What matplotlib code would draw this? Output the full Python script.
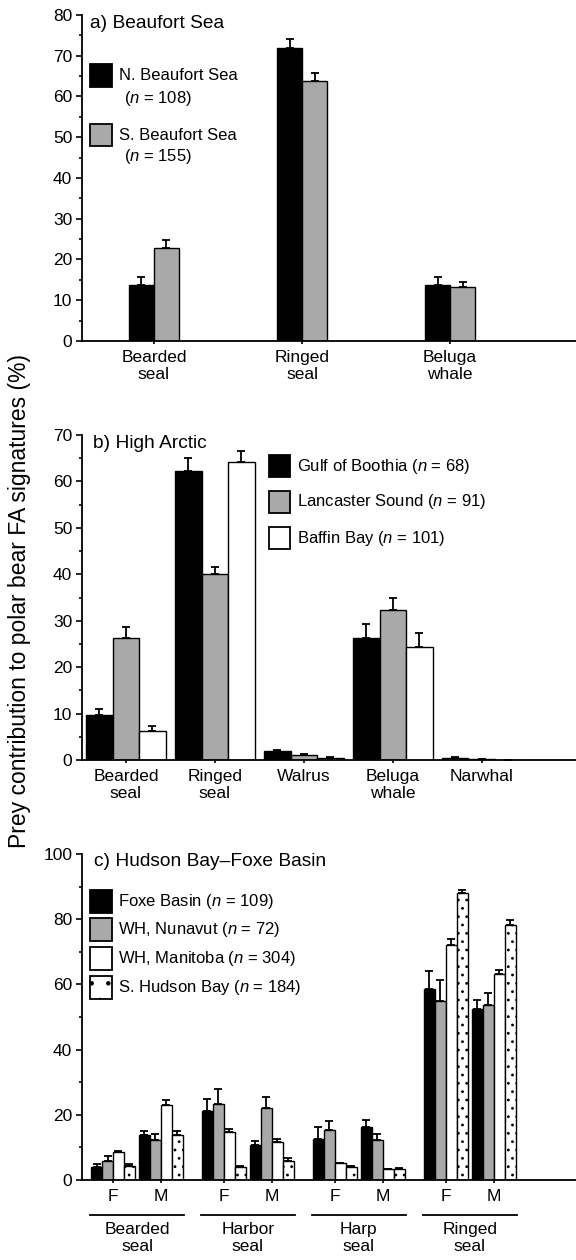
import numpy as np
import matplotlib
matplotlib.use('Agg')
import matplotlib.pyplot as plt
import matplotlib.transforms as mtransforms
from matplotlib.patches import Rectangle
from matplotlib.ticker import MultipleLocator

plt.rcParams['font.family'] = ['Liberation Sans', 'DejaVu Sans']
plt.rcParams['mathtext.fontset'] = 'custom'
plt.rcParams['mathtext.rm'] = 'Liberation Sans'
plt.rcParams['mathtext.it'] = 'Liberation Sans:italic'
plt.rcParams['hatch.linewidth'] = 0.8

GRAY = '#a9a9a9'

# a) Beaufort Sea
a_prey = ['Bearded\nseal', 'Ringed\nseal', 'Beluga\nwhale']
a_north = [13.8, 72.0, 13.8]
a_north_se = [2.0, 2.1, 2.0]
a_south = [22.9, 63.7, 13.3]
a_south_se = [2.0, 2.0, 1.2]

# b) High Arctic
b_prey = ['Bearded\nseal', 'Ringed\nseal', 'Walrus', 'Beluga\nwhale', 'Narwhal']
b_gulf = [9.7, 62.3, 1.9, 26.2, 0.4]
b_gulf_se = [1.2, 2.8, 0.3, 3.0, 0.3]
b_lanc = [26.2, 40.1, 1.1, 32.4, 0.2]
b_lanc_se = [2.5, 1.5, 0.2, 2.5, 0.1]
b_baff = [6.2, 64.1, 0.4, 24.4, 0.0]
b_baff_se = [1.1, 2.5, 0.3, 3.0, 0.0]

# c) Hudson Bay-Foxe Basin, order: F, M for each prey
c_prey = ['Bearded\nseal', 'Harbor\nseal', 'Harp\nseal', 'Ringed\nseal']
c_sex = ['F', 'M']
c_foxe = [3.9, 13.8, 21.1, 10.6, 12.7, 16.4, 58.5, 52.4]
c_foxe_se = [0.9, 1.2, 3.8, 1.5, 3.5, 2.0, 5.5, 2.8]
c_nun = [5.9, 12.3, 23.4, 22.0, 15.2, 12.3, 54.9, 53.8]
c_nun_se = [1.5, 1.8, 4.6, 3.6, 3.0, 1.8, 6.6, 3.5]
c_man = [8.6, 23.1, 14.8, 11.6, 5.1, 3.4, 72.0, 63.2]
c_man_se = [0.3, 1.4, 0.7, 0.9, 0.2, 0.0, 1.9, 1.2]
c_shb = [4.4, 13.8, 4.0, 5.9, 4.0, 3.4, 87.9, 78.1]
c_shb_se = [0.4, 1.2, 0.3, 1.0, 0.3, 0.4, 1.1, 1.7]

W, H = 576, 1260
fig = plt.figure(figsize=(W / 100, H / 100), dpi=100)


def px_axes(top, bottom, left=82, right=576):
    return fig.add_axes([left / W, 1 - bottom / H, (right - left) / W, (bottom - top) / H])


def bars(ax, x, w, vals, se, face, hatch=None):
    ax.bar(x, vals, w, color=face, edgecolor='k', linewidth=1.0, hatch=hatch, zorder=2)
    ax.errorbar(x, vals, yerr=[np.zeros(len(vals)), se], fmt='none', ecolor='k',
                elinewidth=1.3, capsize=3, capthick=1.3, zorder=3)


def style(ax, ymax, major, minor):
    for s in ['top', 'right']:
        ax.spines[s].set_visible(False)
    for s in ['left', 'bottom']:
        ax.spines[s].set_linewidth(1.3)
    ax.set_ylim(0, ymax)
    ax.yaxis.set_major_locator(MultipleLocator(major))
    ax.yaxis.set_minor_locator(MultipleLocator(minor))
    ax.tick_params(axis='y', which='major', length=4.5, width=1.2, labelsize=12.5, pad=2.5)
    ax.tick_params(axis='y', which='minor', length=2.5, width=1.2)
    ax.tick_params(axis='x', length=2.5, width=1.2, labelsize=12.5, pad=4)


def key(x, y, w, h, face, text=None, hatch=None, tx=None, fs=12):
    fig.add_artist(Rectangle((x / W, 1 - (y + h) / H), w / W, h / H, transform=fig.transFigure,
                             facecolor=face, edgecolor='k', lw=1.3, hatch=hatch))
    if text:
        fig.text(tx / W, 1 - (y + h / 2) / H, text, va='center', ha='left', fontsize=fs)


# ---- panel a
ax = px_axes(15, 341)
xa = np.arange(len(a_prey))
wa = 0.169
bars(ax, xa - wa / 2, wa, a_north, a_north_se, 'k')
bars(ax, xa + wa / 2, wa, a_south, a_south_se, GRAY)
style(ax, 80, 10, 5)
ax.set_xlim(-0.486, 2.85)
ax.set_xticks(xa)
ax.set_xticklabels(a_prey, linespacing=1.15)
fig.text(90 / W, 1 - 24 / H, 'a) Beaufort Sea', fontsize=13.8, va='center')
key(90, 64, 22, 23, 'k', 'N. Beaufort Sea', tx=119)
fig.text(124 / W, 1 - 98 / H, '($n$ = 108)', fontsize=12, va='center')
key(90, 124, 22, 22, GRAY, 'S. Beaufort Sea', tx=119)
fig.text(124 / W, 1 - 157 / H, '($n$ = 155)', fontsize=12, va='center')

# ---- panel b
ax = px_axes(435, 760)
xb = np.arange(len(b_prey))
wb = 0.298
bars(ax, xb - wb, wb, b_gulf, b_gulf_se, 'k')
bars(ax, xb, wb, b_lanc, b_lanc_se, GRAY)
bars(ax, xb + wb, wb, b_baff, b_baff_se, 'white')
style(ax, 70, 10, 5)
ax.set_xlim(-0.494, 5.06)
ax.set_xticks(xb)
ax.set_xticklabels(b_prey, linespacing=1.15)
fig.text(93 / W, 1 - 443 / H, 'b) High Arctic', fontsize=13.8, va='center')
key(269, 455, 21, 22, 'k', 'Gulf of Boothia ($n$ = 68)', tx=297)
key(269, 491, 21, 22, GRAY, 'Lancaster Sound ($n$ = 91)', tx=297)
key(269, 527, 21, 22, 'white', 'Baffin Bay ($n$ = 101)', tx=297)

# ---- panel c
ax = px_axes(854, 1180)
gap = 2.3125
xc = np.array([g * gap + s for g in range(len(c_prey)) for s in range(len(c_sex))])
wc = 0.229
bars(ax, xc - 1.5 * wc, wc, c_foxe, c_foxe_se, 'k')
bars(ax, xc - 0.5 * wc, wc, c_nun, c_nun_se, GRAY)
bars(ax, xc + 0.5 * wc, wc, c_man, c_man_se, 'white')
bars(ax, xc + 1.5 * wc, wc, c_shb, c_shb_se, 'white', hatch='..')
style(ax, 100, 20, 10)
ax.set_xlim(-0.646, 9.65)
ax.set_xticks(xc)
ax.set_xticklabels(c_sex * len(c_prey))
trans = mtransforms.blended_transform_factory(ax.transData, ax.transAxes)
for g, name in enumerate(c_prey):
    x0 = g * gap
    ax.plot([x0 - 0.48, x0 + 1.48], [-0.107, -0.107], transform=trans, color='k', lw=1.3, clip_on=False)
    ax.text(x0 + 0.5, -0.128, name, transform=trans, ha='center', va='top', fontsize=12.5, linespacing=1.15)
fig.text(94 / W, 1 - 862 / H, 'c) Hudson Bay\u2013Foxe Basin', fontsize=13.8, va='center')
key(90, 890, 22, 23, 'k', 'Foxe Basin ($n$ = 109)', tx=118)
key(90, 918, 22, 23, GRAY, 'WH, Nunavut ($n$ = 72)', tx=118)
key(90, 947, 22, 23, 'white', 'WH, Manitoba ($n$ = 304)', tx=118)
key(90, 976, 22, 23, 'white', 'S. Hudson Bay ($n$ = 184)', hatch='.', tx=118)

fig.text(20 / W, 1 - 601 / H, 'Prey contribution to polar bear FA signatures (%)',
         rotation=90, ha='center', va='center', fontsize=16.5)

fig.savefig('out.png', dpi=100)
